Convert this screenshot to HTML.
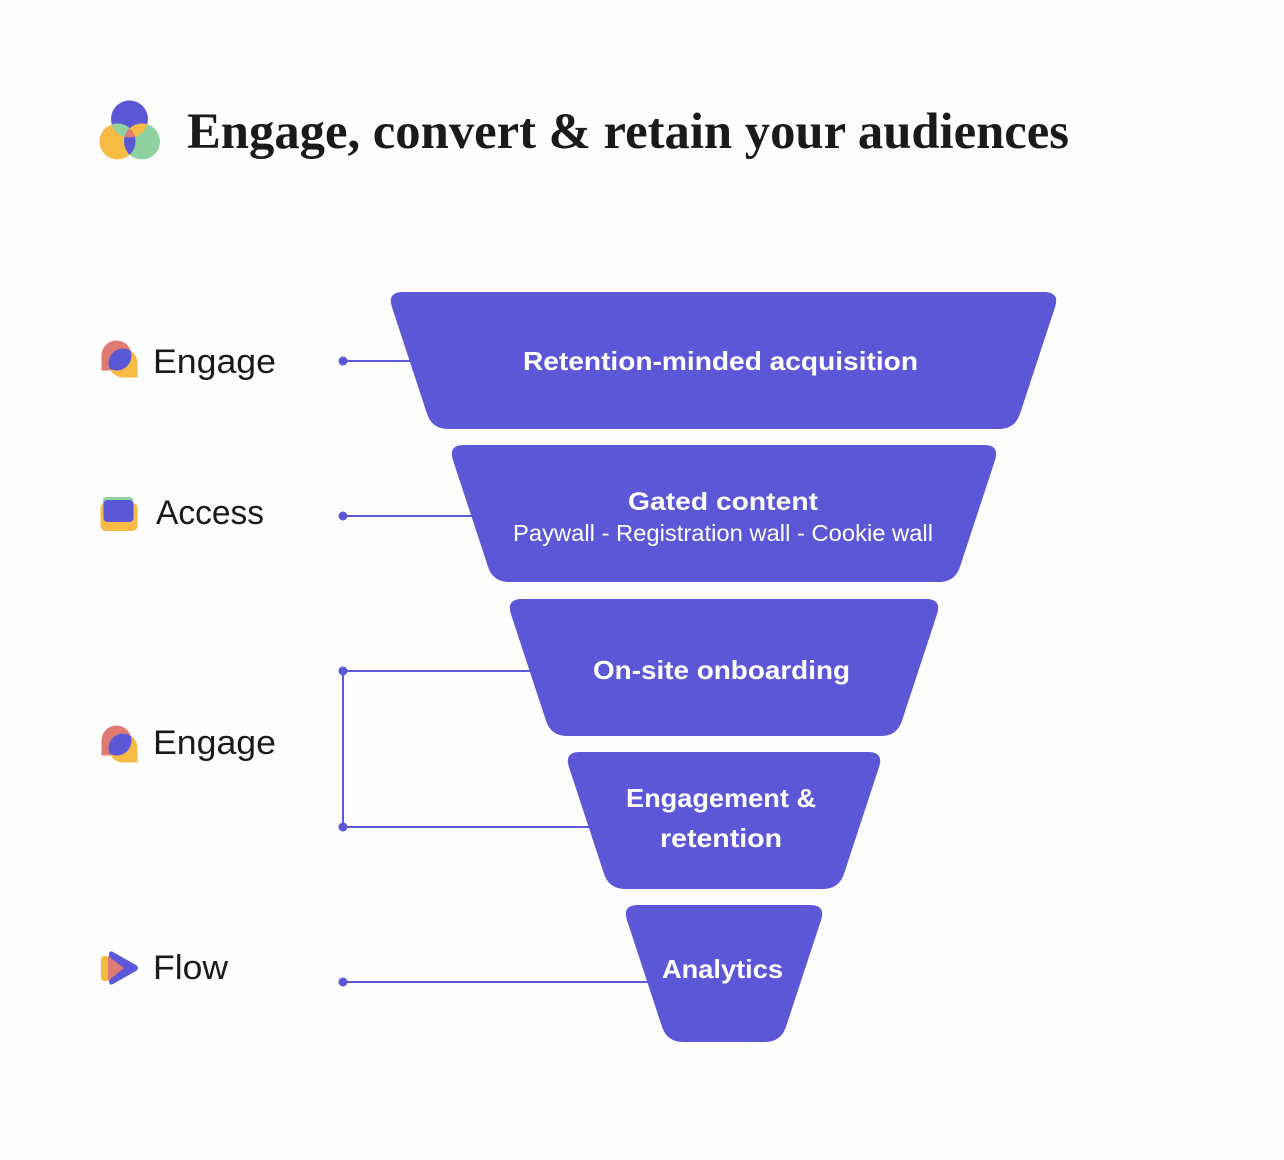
<!DOCTYPE html>
<html>
<head>
<meta charset="utf-8">
<style>
  html, body { margin:0; padding:0; background:#fdfdfd; }
  svg { display:block; }
</style>
</head>
<body>
<svg width="1284" height="1160" viewBox="0 0 1284 1160" xmlns="http://www.w3.org/2000/svg">
  <defs>
    <clipPath id="cBlue"><circle cx="129.5" cy="119" r="18.5"/></clipPath>
    <clipPath id="cYel"><circle cx="117.5" cy="141.5" r="18"/></clipPath>
    <clipPath id="cGrn"><circle cx="142" cy="141.5" r="18"/></clipPath>
    <clipPath id="eRed"><circle cx="116.5" cy="355.5" r="15"/></clipPath>
    <clipPath id="eRed2"><circle cx="116.5" cy="740.5" r="15"/></clipPath>
  </defs>
  <rect width="1284" height="1160" fill="#fdfdfd"/>

  <!-- Title logo -->
  <circle cx="129.5" cy="119" r="18.5" fill="#5b57d6"/>
  <circle cx="117.5" cy="141.5" r="18" fill="#f5bb45"/>
  <circle cx="142" cy="141.5" r="18" fill="#8fd3a0"/>
  <g clip-path="url(#cBlue)"><circle cx="117.5" cy="141.5" r="18" fill="#8fd3a0"/><circle cx="142" cy="141.5" r="18" fill="#f5bb45"/></g>
  <g clip-path="url(#cYel)"><circle cx="142" cy="141.5" r="18" fill="#5b57d6"/></g>
  <g clip-path="url(#cBlue)"><g clip-path="url(#cYel)"><circle cx="142" cy="141.5" r="18" fill="#e07b74"/></g></g>

  <!-- Title -->
  <text x="187" y="148" font-family="'Liberation Serif', serif" font-weight="bold" font-size="51" fill="#1a1a1a" textLength="882" lengthAdjust="spacingAndGlyphs">Engage, convert &amp; retain your audiences</text>

  <!-- Connectors -->
  <g stroke="#5b57d6" stroke-width="2" fill="none">
    <line x1="343" y1="361" x2="420" y2="361"/>
    <line x1="343" y1="516" x2="480" y2="516"/>
    <line x1="343" y1="671" x2="540" y2="671"/>
    <line x1="343" y1="827" x2="600" y2="827"/>
    <line x1="343" y1="982" x2="660" y2="982"/>
    <line x1="343" y1="671" x2="343" y2="827"/>
  </g>
  <g fill="#5b57d6">
    <circle cx="343" cy="361" r="4.5"/>
    <circle cx="343" cy="516" r="4.5"/>
    <circle cx="343" cy="671" r="4.5"/>
    <circle cx="343" cy="827" r="4.5"/>
    <circle cx="343" cy="982" r="4.5"/>
  </g>

  <!-- Funnel -->
  <g fill="#5b57d6">
    <path d="M 403 292 L 1044 292 Q 1060 292 1055 307.2 L 1020 413.8 Q 1015 429 999 429 L 448 429 Q 432 429 427 413.8 L 392 307.2 Q 387 292 403 292 Z"/>
    <path d="M 464 445 L 984 445 Q 1000 445 995 460.2 L 960 566.8 Q 955 582 939 582 L 509 582 Q 493 582 488 566.8 L 453 460.2 Q 448 445 464 445 Z"/>
    <path d="M 522 599 L 926 599 Q 942 599 937 614.2 L 902 720.8 Q 897 736 881 736 L 567 736 Q 551 736 546 720.8 L 511 614.2 Q 506 599 522 599 Z"/>
    <path d="M 580 752 L 868 752 Q 884 752 879 767.2 L 844 873.8 Q 839 889 823 889 L 625 889 Q 609 889 604 873.8 L 569 767.2 Q 564 752 580 752 Z"/>
    <path d="M 638 905 L 810 905 Q 826 905 821 920.2 L 786 1026.8 Q 781 1042 765 1042 L 683 1042 Q 667 1042 662 1026.8 L 627 920.2 Q 622 905 638 905 Z"/>
  </g>

  <!-- Funnel text -->
  <g font-family="'Liberation Sans', sans-serif" fill="#ffffff" font-weight="bold">
    <text x="523" y="370" font-size="26" textLength="395" lengthAdjust="spacingAndGlyphs">Retention-minded acquisition</text>
    <text x="628" y="510" font-size="25" textLength="190" lengthAdjust="spacingAndGlyphs">Gated content</text>
    <text x="593" y="679" font-size="26" textLength="257" lengthAdjust="spacingAndGlyphs">On-site onboarding</text>
    <text x="626" y="807" font-size="26" textLength="190" lengthAdjust="spacingAndGlyphs">Engagement &amp;</text>
    <text x="660" y="847" font-size="26" textLength="122" lengthAdjust="spacingAndGlyphs">retention</text>
    <text x="662" y="978" font-size="26" textLength="121" lengthAdjust="spacingAndGlyphs">Analytics</text>
  </g>
  <text x="513" y="541" font-family="'Liberation Sans', sans-serif" font-size="23" fill="#ffffff" textLength="420" lengthAdjust="spacingAndGlyphs">Paywall - Registration wall - Cookie wall</text>

  <!-- Left labels -->
  <g font-family="'Liberation Sans', sans-serif" font-size="34" fill="#1a1a1a">
    <text x="153" y="373" textLength="123" lengthAdjust="spacingAndGlyphs">Engage</text>
    <text x="156" y="524" textLength="108" lengthAdjust="spacingAndGlyphs">Access</text>
    <text x="153" y="754" textLength="123" lengthAdjust="spacingAndGlyphs">Engage</text>
    <text x="153" y="979" textLength="75" lengthAdjust="spacingAndGlyphs">Flow</text>
  </g>

  <!-- Engage icon 1 -->
  <g>
    <circle cx="116.5" cy="355.5" r="15" fill="#e07b74"/>
    <rect x="101.5" y="355.5" width="15" height="15" fill="#e07b74"/>
    <circle cx="123" cy="363" r="14.5" fill="#f5bb45"/>
    <rect x="123" y="363" width="14.5" height="14.5" fill="#f5bb45"/>
    <g clip-path="url(#eRed)"><circle cx="123" cy="363" r="14.5" fill="#5b57d6"/></g>
  </g>
  <!-- Engage icon 2 -->
  <g>
    <circle cx="116.5" cy="740.5" r="15" fill="#e07b74"/>
    <rect x="101.5" y="740.5" width="15" height="15" fill="#e07b74"/>
    <circle cx="123" cy="748" r="14.5" fill="#f5bb45"/>
    <rect x="123" y="748" width="14.5" height="14.5" fill="#f5bb45"/>
    <g clip-path="url(#eRed2)"><circle cx="123" cy="748" r="14.5" fill="#5b57d6"/></g>
  </g>

  <!-- Access icon -->
  <g>
    <rect x="103" y="497" width="30" height="12" rx="3" fill="#8fd3a0"/>
    <rect x="100.5" y="503" width="37" height="28" rx="5" fill="#f5bb45"/>
    <rect x="103.5" y="500" width="30" height="22" rx="4" fill="#5b57d6"/>
  </g>

  <!-- Flow icon -->
  <g>
    <rect x="101" y="956" width="8" height="25" rx="3" fill="#f5bb45"/>
    <path d="M 113 952 Q 109 950 109 955 L 109 981 Q 109 986 113 984 L 136 971 Q 140 968 136 965 Z" fill="#5b57d6"/>
    <path d="M 108 956 L 124 968 L 108 981 Z" fill="#e07b74"/>
  </g>
</svg>
</body>
</html>
